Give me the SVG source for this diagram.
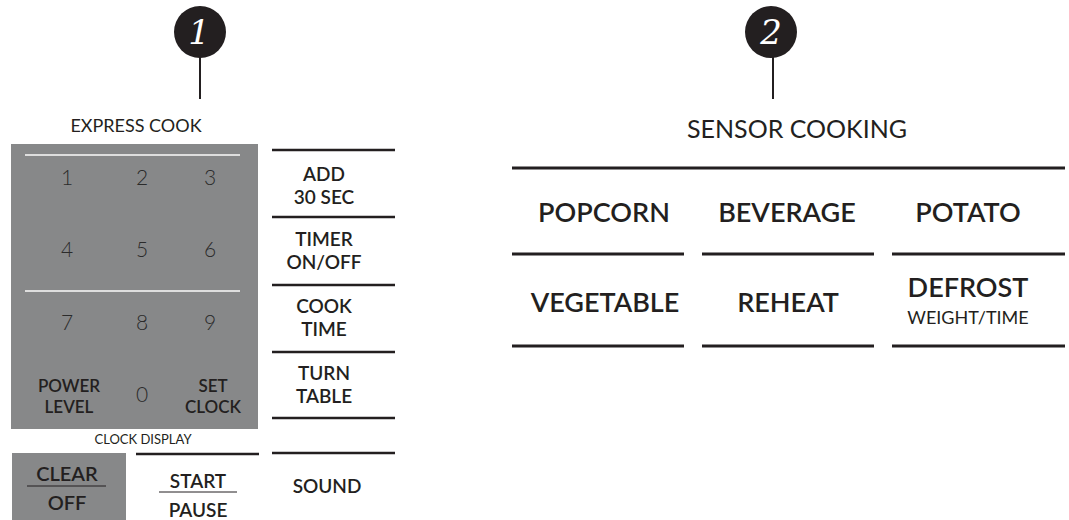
<svg xmlns="http://www.w3.org/2000/svg" width="1069" height="520" viewBox="0 0 1069 520">
<style>
text{font-family:Lato,"Open Sans","Liberation Sans",sans-serif;fill:#231f20;text-anchor:middle}
.k{font-size:19px;font-weight:600}
.s{font-size:17px;font-weight:600}
.d{font-size:21px;font-weight:300;fill:#2b2b2b}
.big{font-size:27px;font-weight:600}
.sub{font-size:18px;font-weight:400}
.hd{font-size:18px;font-weight:400}
.rule{stroke:#231f20;stroke-width:2.5}
.rule3{stroke:#231f20;stroke-width:3}
.lite{stroke:#dedede;stroke-width:2}
.thin{stroke:#231f20;stroke-width:1}
.badge{fill:#231f20}
.num{font-family:"DejaVu Serif","Liberation Serif",serif;font-style:italic;font-size:34px;fill:#ffffff}
.conn{stroke:#231f20;stroke-width:2}
</style>

<g id="connectors">
<line class="conn" x1="200" y1="57" x2="200" y2="99"/>
<line class="conn" x1="773" y1="57" x2="773" y2="99"/>
</g>

<g id="badge1">
<circle class="badge" cx="200" cy="32" r="26"/>
<text class="num" x="199" y="44">1</text>
</g>
<g id="badge2">
<circle class="badge" cx="771" cy="32" r="26"/>
<text class="num" x="771" y="44">2</text>
</g>

<g id="express-cook-label"><text class="hd" x="136" y="132">EXPRESS COOK</text></g>

<g id="keypad">
<rect x="11" y="144" width="247" height="285" fill="#878889"/>
<line class="lite" x1="25" y1="155" x2="240" y2="155"/>
<line class="lite" x1="25" y1="291" x2="240" y2="291"/>
<text class="d" x="67" y="185">1</text>
<text class="d" x="142" y="185">2</text>
<text class="d" x="210" y="185">3</text>
<text class="d" x="67" y="257">4</text>
<text class="d" x="142" y="257">5</text>
<text class="d" x="210" y="257">6</text>
<text class="d" x="67" y="330">7</text>
<text class="d" x="142" y="330">8</text>
<text class="d" x="210" y="330">9</text>
<text class="d" x="142" y="402">0</text>
<text class="s" x="69" y="392">POWER</text>
<text class="s" x="69" y="413">LEVEL</text>
<text class="s" x="213" y="392">SET</text>
<text class="s" x="213" y="413">CLOCK</text>
</g>

<g id="clock-display"><text x="143" y="444" style="font-size:13px;font-weight:400">CLOCK DISPLAY</text></g>

<g id="clear-off">
<rect x="12" y="453" width="114" height="67" fill="#878889"/>
<line class="thin" x1="27" y1="486" x2="106" y2="486"/>
<text class="k" x="67" y="481" style="font-size:20px">CLEAR</text>
<text class="k" x="67" y="510" style="font-size:20px">OFF</text>
</g>

<g id="start-pause">
<line class="rule" x1="136" y1="454" x2="259" y2="454"/>
<line class="thin" x1="159" y1="492" x2="237" y2="492"/>
<text class="k" x="198" y="488">START</text>
<text class="k" x="198" y="517">PAUSE</text>
</g>

<g id="side-keys">
<line class="rule" x1="272" y1="150" x2="395" y2="150"/>
<line class="rule" x1="272" y1="217" x2="395" y2="217"/>
<line class="rule" x1="272" y1="285" x2="395" y2="285"/>
<line class="rule" x1="272" y1="352" x2="395" y2="352"/>
<line class="rule" x1="272" y1="418" x2="395" y2="418"/>
<line class="rule" x1="272" y1="453" x2="395" y2="453"/>
</g>
<g id="add30"><text class="k" x="324" y="181">ADD</text><text class="k" x="324" y="204">30 SEC</text></g>
<g id="timer"><text class="k" x="324" y="246">TIMER</text><text class="k" x="324" y="269">ON/OFF</text></g>
<g id="cooktime"><text class="k" x="324" y="313">COOK</text><text class="k" x="324" y="336">TIME</text></g>
<g id="turntable"><text class="k" x="324" y="380">TURN</text><text class="k" x="324" y="403">TABLE</text></g>
<g id="sound"><text class="k" x="327" y="493">SOUND</text></g>

<g id="sensor-label"><text x="797" y="138" style="font-size:25px;font-weight:400">SENSOR COOKING</text></g>

<g id="sensor-grid">
<line class="rule3" x1="512" y1="168" x2="1065" y2="168"/>
<line class="rule3" x1="512" y1="254" x2="684" y2="254"/>
<line class="rule3" x1="702" y1="254" x2="874" y2="254"/>
<line class="rule3" x1="892" y1="254" x2="1065" y2="254"/>
<line class="rule3" x1="512" y1="346" x2="684" y2="346"/>
<line class="rule3" x1="702" y1="346" x2="874" y2="346"/>
<line class="rule3" x1="892" y1="346" x2="1065" y2="346"/>
</g>
<g id="popcorn"><text class="big" x="604" y="222">POPCORN</text></g>
<g id="beverage"><text class="big" x="787" y="222">BEVERAGE</text></g>
<g id="potato"><text class="big" x="968" y="222">POTATO</text></g>
<g id="vegetable"><text class="big" x="605" y="312">VEGETABLE</text></g>
<g id="reheat"><text class="big" x="788" y="312">REHEAT</text></g>
<g id="defrost"><text class="big" x="968" y="297">DEFROST</text><text class="sub" x="968" y="324">WEIGHT/TIME</text></g>
</svg>
